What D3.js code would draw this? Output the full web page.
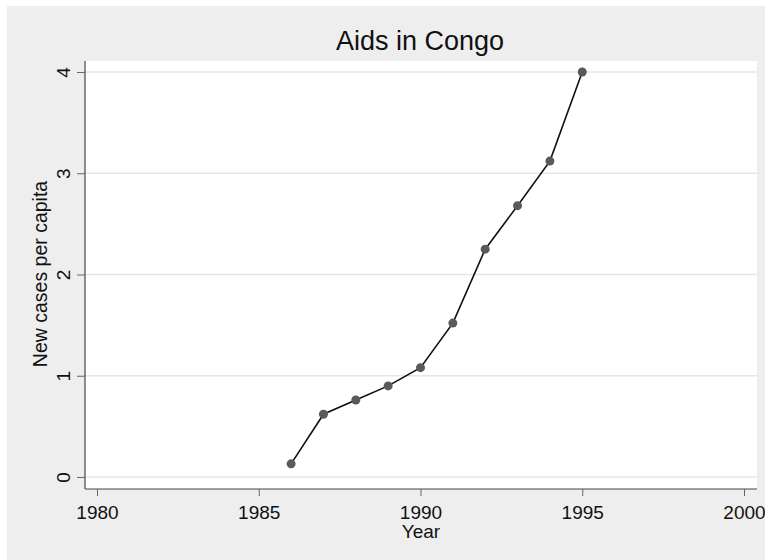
<!DOCTYPE html>
<html>
<head>
<meta charset="utf-8">
<script src="https://cdn.jsdelivr.net/npm/d3@7"></script>
<style>
  body { margin: 0; background: #fff; }
  text { font-family: "Liberation Sans", Arial, sans-serif; }
</style>
</head>
<body>
<div id="chart"></div>
<script>
// data
const years = [1986, 1987, 1988, 1989, 1990, 1991, 1992, 1993, 1994, 1995];
const cases = [0.13, 0.62, 0.76, 0.90, 1.08, 1.52, 2.25, 2.68, 3.12, 4.0];
const xTicks = [1980, 1985, 1990, 1995, 2000];
const yTicks = [0, 1, 2, 3, 4];

const W = 765, H = 560;
const svg = d3.select("#chart").append("svg")
    .attr("width", W).attr("height", H);

// gray outer area
svg.append("rect")
    .attr("x", 7).attr("y", 6)
    .attr("width", W - 7).attr("height", H - 6)
    .attr("fill", "#eeeeee");

const plotL = 85, plotR = 757, plotT = 61, plotB = 489;

svg.append("rect")
    .attr("x", plotL).attr("y", plotT)
    .attr("width", plotR - plotL).attr("height", plotB - plotT)
    .attr("fill", "#fff");

const x = d3.scaleLinear().domain([1980, 2000]).range([97, 744]);
const y = d3.scaleLinear().domain([0, 4]).range([477, 72]);

// grid lines
svg.append("g").selectAll("line")
    .data(yTicks).enter().append("line")
    .attr("x1", plotL).attr("x2", plotR)
    .attr("y1", d => y(d)).attr("y2", d => y(d))
    .attr("stroke", "#e6e6e6").attr("stroke-width", 1.5);

// y axis
const yAxis = svg.append("g")
    .attr("transform", `translate(${plotL},0)`)
    .call(d3.axisLeft(y).tickValues(yTicks).tickSize(8).tickFormat(d3.format("d")));
yAxis.select(".domain").attr("d", `M0,${plotT}V${plotB}`).attr("stroke", "#222");
yAxis.selectAll(".tick line").attr("stroke", "#666");
yAxis.selectAll(".tick text")
    .attr("font-size", 19).attr("fill", "#111")
    .attr("x", 0).attr("y", 0).attr("dy", "0.35em")
    .attr("transform", "translate(-22,0) rotate(-90)")
    .style("text-anchor", "middle");

// x axis
const xAxis = svg.append("g")
    .attr("transform", `translate(0,${plotB})`)
    .call(d3.axisBottom(x).tickValues(xTicks).tickSize(7).tickPadding(0).tickFormat(d3.format("d")));
xAxis.select(".domain").attr("d", `M${plotL},0H${plotR}`).attr("stroke", "#444");
xAxis.selectAll(".tick line").attr("stroke", "#666");
xAxis.selectAll(".tick text")
    .attr("font-size", 19).attr("fill", "#111")
    .attr("y", 30).attr("dy", 0);

// line and markers
const pts = years.map((yr, i) => [yr, cases[i]]);
svg.append("path")
    .datum(pts)
    .attr("fill", "none")
    .attr("stroke", "#111")
    .attr("stroke-width", 1.6)
    .attr("d", d3.line().x(d => x(d[0])).y(d => y(d[1])));

svg.append("g").selectAll("circle")
    .data(pts).enter().append("circle")
    .attr("cx", d => x(d[0])).attr("cy", d => y(d[1]))
    .attr("r", 4.5)
    .attr("fill", "#5a5a5a");

// titles
svg.append("text")
    .attr("x", 420).attr("y", 50)
    .attr("text-anchor", "middle")
    .attr("font-size", 27).attr("fill", "#111")
    .text("Aids in Congo");

svg.append("text")
    .attr("x", 421).attr("y", 538)
    .attr("text-anchor", "middle")
    .attr("font-size", 19).attr("fill", "#111")
    .text("Year");

svg.append("text")
    .attr("transform", `translate(47,274) rotate(-90)`)
    .attr("text-anchor", "middle")
    .attr("font-size", 19.5).attr("fill", "#111")
    .text("New cases per capita");
</script>
</body>
</html>
